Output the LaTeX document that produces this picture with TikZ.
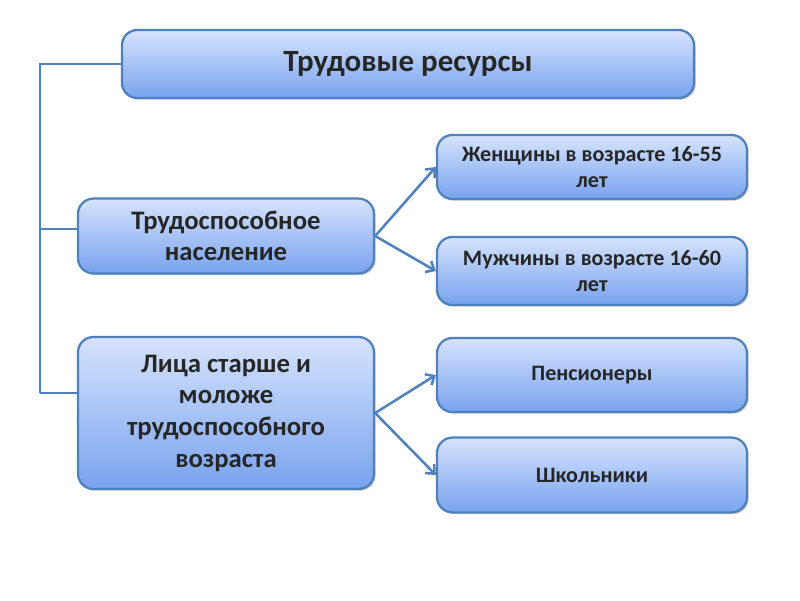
\documentclass[tikz,border=0pt]{standalone}
\usepackage{fontspec}
\setmainfont{Carlito}
\usetikzlibrary{positioning,shadows,arrows.meta}
\definecolor{boxline}{RGB}{79,129,189}
\definecolor{boxtop}{RGB}{214,228,252}
\definecolor{boxbot}{RGB}{120,162,238}
\tikzset{
  block/.style={draw=boxline, line width=1.6pt, rounded corners=11pt,
    top color=boxtop, bottom color=boxbot, align=center,
    font=\bfseries, text=black!85, inner sep=2pt,
    drop shadow={shadow xshift=1.2pt, shadow yshift=-1.2pt, opacity=0.4}},
  link/.style={draw=boxline, line width=1.8pt},
  arr/.style={link, -{Straight Barb[length=5pt,width=9pt]}}
}
\begin{document}
\begin{tikzpicture}[x=0.025cm,y=-0.025cm]
\useasboundingbox (0,0) rectangle (800,600);
% upper level
\node[block, minimum width=14.3cm, minimum height=1.7cm, font=\bfseries\fontsize{22}{26}\selectfont] (res) at (408,64) {Трудовые ресурсы};
% left column
\node[block, minimum width=7.4cm, minimum height=1.87cm, font=\bfseries\fontsize{19}{22.5}\selectfont] (trud) at (226,236) {Трудоспособное\\население};
\node[block, minimum width=7.4cm, minimum height=3.8cm, font=\bfseries\fontsize{19}{22.5}\selectfont] (lica) at (226,413) {Лица старше и\\моложе\\трудоспособного\\возраста};
% right column
\node[block, minimum width=7.75cm, minimum height=1.6cm, font=\bfseries\fontsize{15.7}{18}\selectfont] (zhen) at (592,167) {Женщины в возрасте 16-55\\лет};
\node[block, minimum width=7.75cm, minimum height=1.7cm, font=\bfseries\fontsize{15.7}{18}\selectfont] (muzh) at (592,271) {Мужчины в возрасте 16-60\\лет};
\node[block, minimum width=7.75cm, minimum height=1.85cm, font=\bfseries\fontsize{15.7}{18}\selectfont] (pens) at (592,375) {Пенсионеры};
\node[block, minimum width=7.75cm, minimum height=1.87cm, font=\bfseries\fontsize{15.7}{18}\selectfont] (shk) at (592,475) {Школьники};
% bracket
\coordinate (b1) at (40,64);
\coordinate (b2) at (40,229);
\coordinate (b3) at (40,393);
\draw[link] (res.west) -- (b1) -- (b3);
\draw[link] (b2) -- (trud.west |- b2);
\draw[draw=boxline, line width=0.8pt] (b3) -- (lica.west |- b3);
% arrows
\draw[arr] (trud.east) -- (zhen.west);
\draw[arr] (trud.east) -- (muzh.west);
\draw[arr] (lica.east) -- (pens.west);
\draw[arr] (lica.east) -- (shk.west);
\end{tikzpicture}
\end{document}
